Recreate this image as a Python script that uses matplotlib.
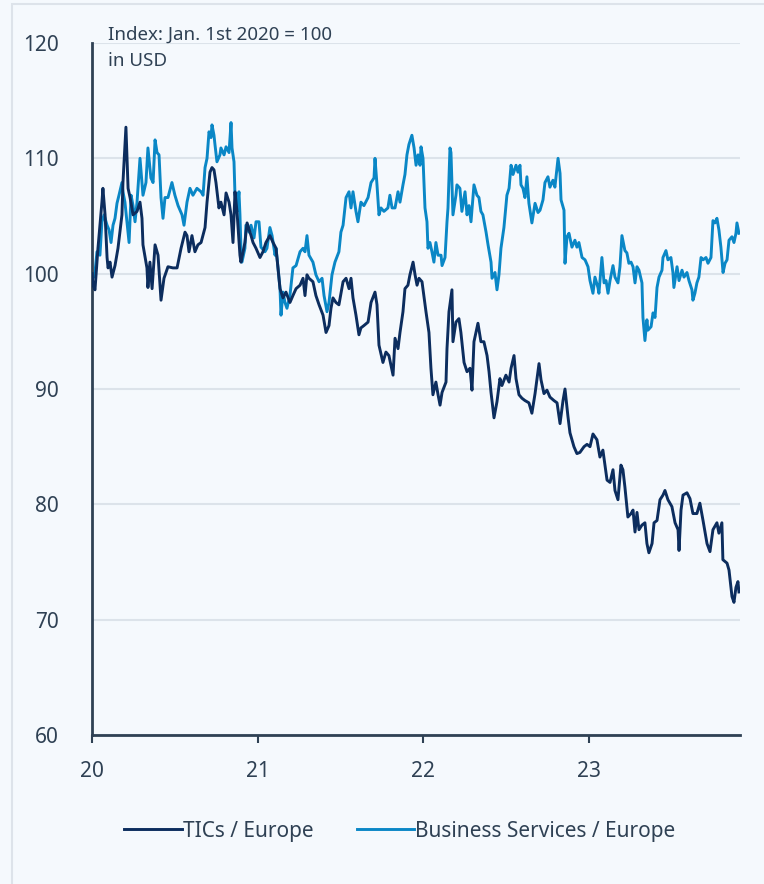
import matplotlib
matplotlib.use("Agg")
import matplotlib.pyplot as plt

plt.rcParams['font.family'] = ['Noto Sans', 'DejaVu Sans']

# ---- data: (decimal year, index value) ----
tics = [
    (20.000, 100.0), (20.006, 99.0), (20.018, 98.6), (20.036, 102.2), (20.060, 106.2), (20.066, 107.4),
    (20.079, 105.1), (20.091, 101.4), (20.097, 100.5), (20.109, 101.0), (20.121, 99.7), (20.139, 100.7),
    (20.157, 102.2), (20.181, 105.1), (20.187, 107.9), (20.205, 112.7), (20.218, 107.4), (20.230, 106.6),
    (20.248, 105.1), (20.272, 105.4), (20.290, 106.2), (20.302, 104.8), (20.308, 102.5), (20.332, 100.5),
    (20.338, 98.8), (20.350, 101.0), (20.363, 98.7), (20.381, 102.5), (20.399, 101.6), (20.417, 97.7),
    (20.435, 99.6), (20.459, 100.6), (20.489, 100.5), (20.514, 100.5), (20.538, 102.2), (20.562, 103.6),
    (20.574, 103.3), (20.586, 101.9), (20.604, 103.3), (20.622, 101.9), (20.640, 102.5), (20.659, 102.7),
    (20.683, 104.0), (20.695, 106.2), (20.713, 108.8), (20.725, 109.2), (20.737, 109.0), (20.749, 107.9),
    (20.767, 105.7), (20.779, 106.2), (20.798, 105.1), (20.810, 107.0), (20.828, 106.2), (20.840, 105.1),
    (20.852, 102.7), (20.864, 107.1), (20.876, 105.4), (20.894, 101.6), (20.900, 101.0), (20.924, 102.7),
    (20.937, 104.4), (20.961, 103.3), (20.973, 102.7), (20.991, 102.2), (21.015, 101.4), (21.033, 101.9),
    (21.051, 102.7), (21.075, 103.3), (21.094, 102.7), (21.112, 102.2), (21.136, 98.7), (21.154, 97.9),
    (21.172, 98.4), (21.196, 97.5), (21.214, 98.1), (21.233, 98.7), (21.257, 99.0), (21.275, 99.6),
    (21.287, 98.1), (21.299, 99.9), (21.311, 99.6), (21.335, 99.3), (21.353, 98.1), (21.372, 97.3),
    (21.396, 96.4), (21.414, 94.9), (21.432, 95.5), (21.444, 97.0), (21.456, 97.9), (21.474, 97.5),
    (21.492, 97.3), (21.517, 99.3), (21.535, 99.6), (21.553, 98.7), (21.565, 99.6), (21.577, 97.9),
    (21.595, 96.4), (21.613, 94.7), (21.625, 95.3), (21.643, 95.5), (21.668, 95.8), (21.686, 97.5),
    (21.710, 98.4), (21.722, 97.3), (21.734, 93.8), (21.758, 92.3), (21.776, 93.2), (21.794, 92.9),
    (21.819, 91.2), (21.831, 94.4), (21.849, 93.5), (21.861, 94.9), (21.879, 96.7), (21.891, 98.7),
    (21.909, 99.0), (21.921, 99.9), (21.940, 101.0), (21.952, 99.9), (21.964, 99.0), (21.976, 99.6),
    (21.994, 99.3), (22.018, 96.7), (22.036, 94.9), (22.048, 91.8), (22.060, 89.5), (22.078, 90.6),
    (22.091, 89.5), (22.103, 88.6), (22.115, 89.7), (22.139, 90.6), (22.145, 93.5), (22.157, 96.7),
    (22.175, 98.6), (22.181, 94.1), (22.199, 95.8), (22.217, 96.1), (22.229, 94.9), (22.248, 92.3),
    (22.266, 91.5), (22.284, 91.8), (22.296, 89.9), (22.308, 94.1), (22.332, 95.7), (22.350, 94.1),
    (22.368, 94.1), (22.387, 92.9), (22.399, 91.5), (22.411, 89.7), (22.429, 87.5), (22.447, 88.9),
    (22.465, 90.9), (22.477, 90.3), (22.501, 91.2), (22.520, 90.6), (22.532, 91.8), (22.550, 92.9),
    (22.562, 90.9), (22.580, 89.5), (22.598, 89.2), (22.616, 89.0), (22.640, 88.8), (22.658, 87.9),
    (22.677, 89.6), (22.701, 92.2), (22.713, 90.8), (22.731, 89.6), (22.749, 89.9), (22.767, 89.3),
    (22.791, 89.0), (22.810, 88.8), (22.828, 87.0), (22.846, 89.0), (22.858, 90.0), (22.876, 87.6),
    (22.888, 86.2), (22.912, 85.0), (22.930, 84.4), (22.948, 84.5), (22.973, 85.0), (22.991, 85.2),
    (23.009, 85.0), (23.027, 86.1), (23.051, 85.6), (23.069, 84.1), (23.087, 84.7), (23.112, 82.1),
    (23.130, 81.9), (23.148, 83.0), (23.160, 81.2), (23.178, 80.4), (23.196, 83.4), (23.208, 83.0),
    (23.220, 81.5), (23.238, 78.9), (23.257, 79.2), (23.269, 79.5), (23.281, 77.6), (23.293, 79.3),
    (23.305, 77.8), (23.323, 78.2), (23.341, 78.4), (23.353, 76.6), (23.365, 75.8), (23.384, 76.6),
    (23.396, 78.4), (23.414, 78.6), (23.432, 80.4), (23.450, 80.8), (23.462, 81.2), (23.480, 80.4),
    (23.504, 79.8), (23.523, 78.4), (23.541, 77.8), (23.547, 76.0), (23.559, 79.5), (23.571, 80.8),
    (23.595, 81.0), (23.613, 80.5), (23.631, 79.2), (23.655, 79.2), (23.673, 80.1), (23.692, 78.6),
    (23.716, 76.6), (23.734, 75.9), (23.752, 77.8), (23.776, 78.4), (23.788, 77.5), (23.806, 78.4),
    (23.812, 75.2), (23.837, 74.9), (23.849, 74.3), (23.867, 72.0), (23.879, 71.5), (23.891, 72.8),
    (23.903, 73.3), (23.909, 72.4),
]

business = [
    (20.000, 100.0), (20.006, 99.6), (20.018, 100.1), (20.030, 101.9), (20.048, 101.6), (20.060, 104.5),
    (20.073, 105.1), (20.091, 104.2), (20.103, 103.8), (20.115, 102.7), (20.127, 104.2), (20.139, 104.8),
    (20.151, 106.1), (20.163, 106.8), (20.181, 107.9), (20.187, 107.1), (20.199, 106.2), (20.211, 104.5),
    (20.224, 102.7), (20.236, 106.8), (20.248, 105.9), (20.260, 104.5), (20.272, 106.2), (20.290, 110.0),
    (20.302, 107.9), (20.308, 106.8), (20.326, 107.9), (20.338, 110.9), (20.356, 108.3), (20.369, 107.9),
    (20.381, 111.6), (20.393, 110.5), (20.405, 110.3), (20.417, 106.6), (20.429, 104.8), (20.441, 106.6),
    (20.459, 106.6), (20.483, 107.9), (20.501, 106.8), (20.520, 105.9), (20.544, 105.1), (20.556, 104.2),
    (20.574, 106.2), (20.592, 107.4), (20.610, 106.8), (20.634, 107.4), (20.659, 107.1), (20.671, 106.8),
    (20.683, 109.2), (20.695, 110.0), (20.707, 112.3), (20.719, 111.8), (20.725, 112.9), (20.737, 112.0),
    (20.743, 111.2), (20.755, 109.7), (20.773, 110.3), (20.779, 110.9), (20.798, 110.3), (20.810, 111.0),
    (20.828, 110.5), (20.840, 113.1), (20.846, 110.9), (20.858, 109.7), (20.864, 106.8), (20.876, 105.4),
    (20.888, 107.1), (20.894, 105.1), (20.900, 102.2), (20.906, 101.0), (20.924, 102.2), (20.930, 104.2),
    (20.949, 103.6), (20.961, 104.2), (20.979, 103.1), (20.991, 104.5), (21.009, 104.5), (21.021, 102.3),
    (21.045, 101.9), (21.057, 102.2), (21.075, 104.0), (21.088, 103.3), (21.106, 101.6), (21.112, 102.2),
    (21.124, 100.5), (21.136, 98.7), (21.142, 96.4), (21.154, 98.4), (21.166, 97.5), (21.178, 97.0),
    (21.196, 98.1), (21.214, 100.5), (21.233, 100.7), (21.257, 101.9), (21.275, 102.2), (21.287, 101.9),
    (21.299, 103.3), (21.311, 101.6), (21.335, 101.0), (21.353, 99.9), (21.372, 99.3), (21.390, 99.6),
    (21.402, 98.1), (21.420, 96.7), (21.432, 97.5), (21.450, 99.9), (21.468, 101.0), (21.492, 101.9),
    (21.504, 103.6), (21.517, 104.2), (21.535, 106.6), (21.553, 107.1), (21.565, 105.7), (21.577, 107.1),
    (21.595, 105.4), (21.607, 104.5), (21.625, 106.2), (21.643, 105.9), (21.668, 106.6), (21.686, 107.9),
    (21.704, 108.3), (21.710, 110.0), (21.722, 107.7), (21.734, 105.1), (21.746, 105.7), (21.764, 105.4),
    (21.788, 105.7), (21.800, 106.8), (21.813, 105.7), (21.831, 105.7), (21.849, 107.1), (21.861, 106.2),
    (21.879, 107.7), (21.891, 108.6), (21.903, 110.3), (21.915, 111.2), (21.933, 112.0), (21.946, 110.9),
    (21.958, 109.4), (21.970, 110.3), (21.982, 109.4), (21.988, 111.0), (22.000, 110.0), (22.012, 105.7),
    (22.024, 104.5), (22.030, 102.2), (22.042, 102.7), (22.054, 101.9), (22.066, 101.0), (22.078, 102.7),
    (22.091, 101.6), (22.109, 101.6), (22.115, 100.7), (22.133, 101.4), (22.145, 104.5), (22.151, 105.7),
    (22.163, 110.9), (22.169, 110.5), (22.181, 105.1), (22.199, 106.8), (22.205, 107.7), (22.223, 107.4),
    (22.235, 105.4), (22.254, 107.1), (22.266, 105.1), (22.278, 105.9), (22.290, 104.5), (22.308, 107.7),
    (22.326, 106.8), (22.338, 106.6), (22.350, 105.4), (22.362, 105.1), (22.381, 103.6), (22.393, 102.5),
    (22.411, 101.0), (22.417, 99.6), (22.435, 100.1), (22.447, 98.6), (22.459, 99.9), (22.471, 102.2),
    (22.489, 104.0), (22.507, 106.8), (22.520, 107.4), (22.532, 109.4), (22.544, 108.6), (22.562, 109.4),
    (22.574, 108.8), (22.586, 109.4), (22.592, 107.7), (22.604, 107.4), (22.616, 106.6), (22.628, 108.4),
    (22.640, 106.1), (22.658, 104.4), (22.677, 106.1), (22.695, 105.3), (22.707, 105.5), (22.725, 106.4),
    (22.737, 107.9), (22.755, 108.4), (22.767, 107.5), (22.785, 108.1), (22.797, 107.5), (22.816, 110.0),
    (22.828, 108.7), (22.834, 106.4), (22.852, 105.5), (22.858, 100.9), (22.870, 103.2), (22.882, 103.5),
    (22.900, 102.3), (22.918, 102.9), (22.930, 102.3), (22.942, 102.7), (22.961, 101.4), (22.979, 101.2),
    (22.997, 100.6), (23.009, 99.4), (23.027, 98.3), (23.039, 99.7), (23.057, 98.8), (23.063, 98.3),
    (23.081, 101.4), (23.094, 99.2), (23.106, 99.4), (23.118, 98.3), (23.130, 99.4), (23.148, 100.7),
    (23.160, 99.7), (23.178, 99.2), (23.190, 100.6), (23.202, 103.3), (23.220, 102.0), (23.232, 101.8),
    (23.244, 100.9), (23.257, 101.0), (23.269, 100.6), (23.281, 99.2), (23.293, 100.6), (23.305, 100.3),
    (23.323, 99.2), (23.329, 96.2), (23.341, 94.2), (23.353, 96.0), (23.359, 95.1), (23.378, 95.4),
    (23.390, 96.6), (23.402, 96.2), (23.414, 98.8), (23.426, 99.7), (23.444, 100.3), (23.450, 101.4),
    (23.468, 102.0), (23.480, 101.2), (23.498, 101.4), (23.510, 100.1), (23.516, 98.8), (23.535, 100.6),
    (23.547, 99.4), (23.565, 100.3), (23.577, 99.7), (23.595, 100.1), (23.607, 99.4), (23.625, 98.6),
    (23.631, 97.7), (23.643, 98.3), (23.655, 99.2), (23.667, 99.7), (23.680, 101.4), (23.692, 101.2),
    (23.710, 101.4), (23.722, 100.9), (23.740, 101.4), (23.752, 104.6), (23.764, 104.4), (23.776, 104.8),
    (23.788, 103.8), (23.800, 102.3), (23.813, 100.1), (23.825, 100.9), (23.837, 101.2), (23.849, 102.9),
    (23.867, 103.2), (23.879, 102.7), (23.891, 103.5), (23.897, 104.4), (23.909, 103.5),
]

series_names = ["TICs / Europe", "Business Services / Europe"]
x_ticks = [20, 21, 22, 23]
x_ticklabels = ["20", "21", "22", "23"]
y_ticks = [60, 70, 80, 90, 100, 110, 120]
note_text = "Index: Jan. 1st 2020 = 100\nin USD"

# ---- styling ----
BG = "#f5f9fd"
DARK = "#0c2d5e"
LIGHT = "#0a87c6"
TEXT = "#2f4154"
GRID = "#dce3ea"
AXIS = "#2f4154"

fig = plt.figure(figsize=(7.64, 8.84), dpi=100, facecolor=BG)
ax = fig.add_axes([92 / 764, 1 - 735 / 884, (740 - 92) / 764, (735 - 43) / 884])
ax.set_facecolor(BG)

# outer panel border
border = plt.Rectangle((12 / 764, -0.1), 2, (884 - 4) / 884 + 0.1, transform=fig.transFigure,
                       fill=False, edgecolor="#dde3ea", linewidth=1.5, zorder=0)
fig.patches.append(border)

tx, tv = zip(*tics)
bx, bv = zip(*business)
l1, = ax.plot(tx, tv, color=DARK, lw=2.1, label=series_names[0], zorder=3, solid_joinstyle="round")
l2, = ax.plot(bx, bv, color=LIGHT, lw=2.1, label=series_names[1], zorder=2, solid_joinstyle="round")

ax.set_xlim(20, 20 + (740 - 92) / 165.5)
ax.set_ylim(60, 120)
ax.set_yticks(y_ticks)
ax.set_xticks(x_ticks)
ax.set_xticklabels(x_ticklabels)
ax.yaxis.grid(True, color=GRID, lw=1.5)
ax.set_axisbelow(True)
for s in ["top", "right"]:
    ax.spines[s].set_visible(False)
for s in ["left", "bottom"]:
    ax.spines[s].set_color(AXIS)
    ax.spines[s].set_linewidth(2)
ax.tick_params(axis="y", length=0, pad=24, labelsize=15, labelcolor=TEXT)
ax.tick_params(axis="x", length=6, width=1.5, color=AXIS, pad=13, labelsize=15, labelcolor=TEXT)

ax.text(108 / 764, 1 - 26 / 884, note_text, transform=fig.transFigure, ha="left", va="top",
        fontsize=13.5, color=TEXT, linespacing=1.6)

fig.legend(handles=[l1, l2], labels=series_names, loc="center",
           bbox_to_anchor=(400 / 764, 1 - 831 / 884), ncol=2, frameon=False,
           fontsize=15, labelcolor=TEXT, handlelength=2.75, handletextpad=0.05,
           columnspacing=2.1)

fig.savefig("out.png", dpi=100, facecolor=BG)
